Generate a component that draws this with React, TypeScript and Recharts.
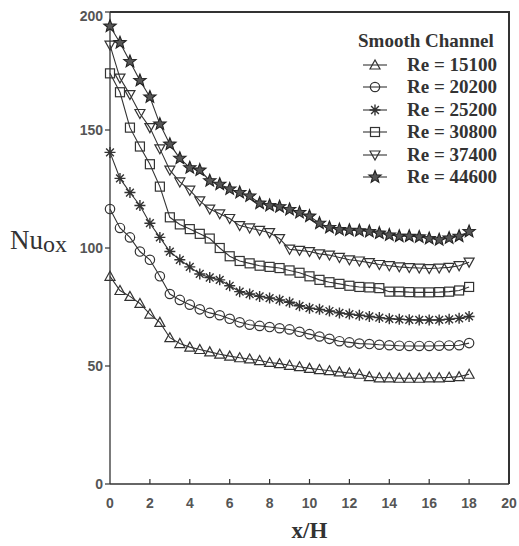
import { LineChart, Line, XAxis, YAxis, ReferenceLine } from "recharts";

// x/H stations
const xH = [
  0, 0.5, 1, 1.5, 2, 2.5, 3, 3.5, 4, 4.5, 5, 5.5, 6, 6.5, 7, 7.5, 8, 8.5, 9,
  9.5, 10, 10.5, 11, 11.5, 12, 12.5, 13, 13.5, 14, 14.5, 15, 15.5, 16, 16.5, 17,
  17.5, 18,
];

// Nu_ox for each Reynolds number
const re15100 = [
  88, 82, 79.5, 76.5, 72, 68.5, 62, 59.5, 58, 57, 56, 55, 54.2, 53.5, 53, 52.3,
  51.5, 51, 50.3, 49.7, 49, 48.5, 48, 47.5, 47, 46.5, 45.5, 45, 45, 44.8, 44.8,
  44.8, 45, 45, 45.2, 45.5, 46.5,
];
const re20200 = [
  116.5, 108.5, 104.5, 98.5, 95, 88, 80.5, 78, 76, 74, 72.5, 71.5, 70, 68.5,
  67.5, 67, 66.5, 66, 65.5, 64.5, 63.5, 62.5, 61.5, 60.5, 60, 59.5, 59.3, 59,
  58.8, 58.6, 58.5, 58.5, 58.5, 58.6, 58.7, 58.8, 59.7,
];
const re25200 = [
  140.5, 129.5, 123.5, 118, 110.5, 104.5, 98.5, 95, 92, 89, 87.5, 86.5, 84,
  81.5, 80.5, 79.5, 78.8, 78, 77, 75.5, 74.5, 74, 73.3, 72.5, 72, 71.5, 71,
  70.5, 70, 69.8, 69.6, 69.5, 69.5, 69.5, 69.8, 70.2, 71,
];
const re30800 = [
  174, 166, 151, 143, 135.5, 126, 113, 110, 108, 106, 104, 100, 96.5, 94.5,
  93.5, 92.5, 92, 91.5, 90.5, 89.5, 88, 86.5, 85.5, 84.8, 84, 83.5, 83.3, 83,
  81.5, 81.5, 81.3, 81.2, 81.2, 81.3, 81.5, 82, 83.5,
];
const re37400 = [
  186, 172, 165, 157, 151, 142, 133, 128, 124.5, 120, 116.5, 114.5, 112.5,
  109.5, 108.5, 107.5, 106.5, 104, 99.5, 99, 98.5, 97.5, 97, 96, 95, 94.5, 93.8,
  93, 92.5, 92, 91.7, 91.5, 91.3, 91.5, 91.8, 92.5, 94,
];
const re44600 = [
  194, 187, 179, 171, 164, 152.5, 144, 138, 134, 133, 128.5, 127, 125, 123.5,
  122, 119, 118, 117.5, 116.3, 115, 113.5, 110.5, 108.7, 107.8, 107.5, 107.3,
  107, 106.3, 105.5, 105, 105, 104.7, 104, 103.5, 104.2, 105, 107,
];

const seriesKeys = ["r1", "r2", "r3", "r4", "r5", "r6"];
const seriesNames = [
  "Re = 15100",
  "Re = 20200",
  "Re = 25200",
  "Re = 30800",
  "Re = 37400",
  "Re = 44600",
];
const seriesMarkers = ["triUp", "circle", "aster", "square", "triDown", "star"];
const seriesValues = [re15100, re20200, re25200, re30800, re37400, re44600];

const xTicks = [0, 2, 4, 6, 8, 10, 12, 14, 16, 18, 20];
const yTicks = [0, 50, 100, 150, 200];

const data = xH.map((x, i) => {
  const row: any = { x };
  seriesKeys.forEach((k, s) => (row[k] = seriesValues[s][i]));
  return row;
});

const INK = "#333";
const SERIF = "Liberation Serif, Times New Roman, serif";

// page is 519 x 546, chart sits at (8, 8); plot area is 399 x 472 at (102, 4) in the chart
const W = 511;
const H = 538;
const M = { top: 4, right: 10, left: 0, bottom: 0 };
const Y_AXIS_W = 102;
const X_AXIS_H = 62;

function Marker({ kind, cx, cy }: { kind: string; cx: number; cy: number }) {
  if (cx == null || cy == null) return null;
  const common = { stroke: INK, strokeWidth: 1.2, fill: "none" };
  switch (kind) {
    case "triUp":
      return (
        <polygon
          {...common}
          points={`${cx},${cy - 5} ${cx - 5},${cy + 4} ${cx + 5},${cy + 4}`}
        />
      );
    case "triDown":
      return (
        <polygon
          {...common}
          points={`${cx - 5},${cy - 4} ${cx + 5},${cy - 4} ${cx},${cy + 5}`}
        />
      );
    case "circle":
      return <circle {...common} cx={cx} cy={cy} r={4.7} />;
    case "square":
      return <rect {...common} x={cx - 4.5} y={cy - 4.5} width={9} height={9} />;
    case "aster": {
      const r = 5.5;
      const d = r * 0.7071;
      return (
        <path
          {...common}
          strokeWidth={1.4}
          d={`M${cx - r},${cy}H${cx + r}M${cx},${cy - r}V${cy + r}M${cx - d},${cy - d}L${cx + d},${cy + d}M${cx - d},${cy + d}L${cx + d},${cy - d}`}
        />
      );
    }
    case "star": {
      const pts: string[] = [];
      for (let i = 0; i < 10; i++) {
        const rr = i % 2 === 0 ? 6.5 : 2.8;
        const a = -Math.PI / 2 + (i * Math.PI) / 5;
        pts.push(`${cx + rr * Math.cos(a)},${cy + rr * Math.sin(a)}`);
      }
      return (
        <polygon points={pts.join(" ")} fill="#555" stroke="#222" strokeWidth={1.1} />
      );
    }
    default:
      return null;
  }
}

const XTick = (props: any) => {
  const { x, y, payload } = props;
  const v = payload.value;
  return (
    <g>
      {v > 0 && v < 20 && (
        <line x1={x} x2={x} y1={y} y2={y - 5} stroke={INK} strokeWidth={1.2} />
      )}
      <text
        x={x}
        y={y + 24}
        textAnchor="middle"
        fontSize={14}
        fontWeight="bold"
        fontFamily="Liberation Sans, Arial, sans-serif"
        fill="#555"
      >
        {v}
      </text>
    </g>
  );
};

export default function App() {
  return (
    <div style={{ position: "relative", width: 519, height: 546, overflow: "hidden" }}>
      <style>{`html, body { margin: 0; padding: 0; overflow: hidden; }`}</style>
      <div style={{ position: "absolute", left: 8, top: 8, width: W, height: H }}>
        <LineChart width={W} height={H} data={data} margin={M}>
          <XAxis
            type="number"
            dataKey="x"
            domain={[0, 20]}
            ticks={xTicks}
            height={X_AXIS_H}
            tickSize={0}
            tickMargin={0}
            tickLine={false}
            tick={<XTick />}
            axisLine={{ stroke: INK, strokeWidth: 1.3 }}
            label={{
              value: "x/H",
              position: "insideBottom",
              offset: 8,
              style: {
                fontFamily: SERIF,
                fontWeight: "bold",
                fontSize: 23,
                fill: INK,
              },
            }}
          />
          <YAxis
            type="number"
            domain={[0, 200]}
            ticks={yTicks}
            width={Y_AXIS_W}
            tickSize={5}
            tickMargin={2}
            tickLine={{ stroke: INK, strokeWidth: 1.2 }}
            axisLine={{ stroke: INK, strokeWidth: 1.3 }}
            tick={{
              fontSize: 14,
              fontWeight: "bold",
              fontFamily: "Liberation Sans, Arial, sans-serif",
              fill: "#555",
            }}
          />
          <ReferenceLine y={200} stroke={INK} strokeWidth={2} ifOverflow="visible" />
          <ReferenceLine x={20} stroke={INK} strokeWidth={2} ifOverflow="visible" />
          {seriesKeys.map((k, s) => (
            <Line
              key={k}
              dataKey={k}
              name={seriesNames[s]}
              type="linear"
              stroke={INK}
              strokeWidth={1.1}
              isAnimationActive={false}
              dot={(p: any) => (
                <Marker key={`${k}-${p.index}`} kind={seriesMarkers[s]} cx={p.cx} cy={p.cy} />
              )}
            />
          ))}
        </LineChart>

        {/* top and right edges of the plot frame */}
        <div
          style={{
            position: "absolute",
            left: M.left + Y_AXIS_W,
            top: M.top - 1,
            width: W - M.left - M.right - Y_AXIS_W + 1,
            height: H - M.top - X_AXIS_H + 1,
            borderTop: `2px solid ${INK}`,
            borderRight: `2px solid ${INK}`,
            boxSizing: "border-box",
            pointerEvents: "none",
          }}
        />

        <div
          style={{
            position: "absolute",
            left: 2,
            top: 219,
            fontFamily: SERIF,
            fontSize: 27,
            color: INK,
            lineHeight: 1,
            whiteSpace: "nowrap",
          }}
        >
          Nu
          <span style={{ fontSize: 24, position: "relative", top: 3 }}>ox</span>
        </div>

        <div
          style={{
            position: "absolute",
            left: 350,
            top: 23,
            fontFamily: SERIF,
            fontWeight: "bold",
            fontSize: 19,
            lineHeight: "20px",
            color: INK,
            whiteSpace: "nowrap",
          }}
        >
          Smooth Channel
        </div>
        {seriesNames.map((name, s) => (
          <div
            key={name}
            style={{
              position: "absolute",
              left: 353,
              top: 46 + s * 22.4,
              height: 22,
              display: "flex",
              alignItems: "center",
              whiteSpace: "nowrap",
            }}
          >
            <svg width={30} height={22} style={{ display: "block" }}>
              <line x1={2} x2={26} y1={11} y2={11} stroke={INK} strokeWidth={1.1} />
              <Marker kind={seriesMarkers[s]} cx={14} cy={11} />
            </svg>
            <span
              style={{
                marginLeft: 16,
                fontFamily: SERIF,
                fontWeight: "bold",
                fontSize: 19,
                lineHeight: "22px",
                color: INK,
              }}
            >
              {name}
            </span>
          </div>
        ))}
      </div>
    </div>
  );
}
